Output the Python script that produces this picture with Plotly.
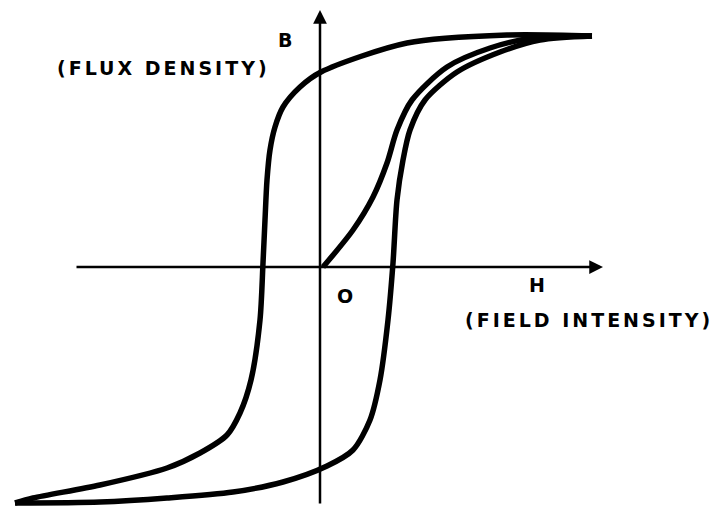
import plotly.graph_objects as go

# Readings from the picture: H and B in arbitrary units (1 unit ~ 100 px),
# origin where the two axes cross.
desc_h = [2.69, 1.84, 0.84, -0.02, -0.23, -0.40, -0.48, -0.53, -0.56, -0.58, -0.60, -0.63, -0.72, -0.83, -0.96, -1.23, -1.56, -2.23, -2.90, -3.08]
desc_b = [2.31, 2.32, 2.24, 1.95, 1.80, 1.60, 1.40, 1.17, 0.87, 0.47, 0.04, -0.53, -1.13, -1.46, -1.68, -1.86, -2.01, -2.18, -2.31, -2.36]

asc_h = [-3.08, -2.23, -1.56, -0.90, -0.40, 0.04, 0.30, 0.47, 0.57, 0.65, 0.70, 0.74, 0.80, 0.87, 1.02, 1.34, 1.77, 2.17, 2.69]
asc_b = [-2.36, -2.35, -2.31, -2.25, -2.15, -1.99, -1.83, -1.53, -1.13, -0.53, 0.04, 0.67, 1.07, 1.37, 1.67, 1.95, 2.15, 2.27, 2.31]

init_h = [0.00, 0.30, 0.50, 0.64, 0.74, 0.89, 1.24, 1.67, 2.10, 2.69]
init_b = [0.00, 0.37, 0.70, 1.04, 1.37, 1.67, 2.00, 2.19, 2.29, 2.31]

curve = dict(color="black", width=5.5, shape="spline", smoothing=0.8)

fig = go.Figure()
fig.add_trace(go.Scatter(x=desc_h, y=desc_b, mode="lines", line=curve, hoverinfo="skip"))
fig.add_trace(go.Scatter(x=asc_h, y=asc_b, mode="lines", line=curve, hoverinfo="skip"))
fig.add_trace(go.Scatter(x=init_h, y=init_b, mode="lines", line=curve, hoverinfo="skip"))

# axes drawn as arrows
axis_arrow = dict(xref="x", yref="y", axref="x", ayref="y", text="",
                  showarrow=True, arrowhead=2, arrowsize=1.1, arrowwidth=2.5, arrowcolor="black")
fig.add_annotation(x=2.80, y=0.0, ax=-2.48, ay=0.0, **axis_arrow)
fig.add_annotation(x=-0.03, y=2.57, ax=-0.03, ay=-2.38, **axis_arrow)

lab = dict(family="DejaVu Sans, Arial, sans-serif", size=19, color="black", weight=700)
spaced = '<span style="letter-spacing:3px">%s</span>'
fig.add_annotation(x=-0.38, y=2.27, text="B", showarrow=False, font=lab)
fig.add_annotation(x=-1.60, y=1.99, text=spaced % "(FLUX DENSITY)", showarrow=False, font=lab)
fig.add_annotation(x=0.22, y=-0.29, text="O", showarrow=False, font=lab)
fig.add_annotation(x=2.14, y=-0.18, text="H", showarrow=False, font=lab)
fig.add_annotation(x=2.66, y=-0.53, text=spaced % "(FIELD INTENSITY)", showarrow=False, font=lab)

# ranges shifted by 8 px to offset the page margin
fig.update_layout(
    width=719, height=510,
    margin=dict(l=0, r=0, t=0, b=0),
    paper_bgcolor="white", plot_bgcolor="white",
    showlegend=False,
    xaxis=dict(range=[-3.15, 4.04], visible=False, fixedrange=True),
    yaxis=dict(range=[-2.51, 2.59], visible=False, fixedrange=True),
)

fig.write_html("out.html")
